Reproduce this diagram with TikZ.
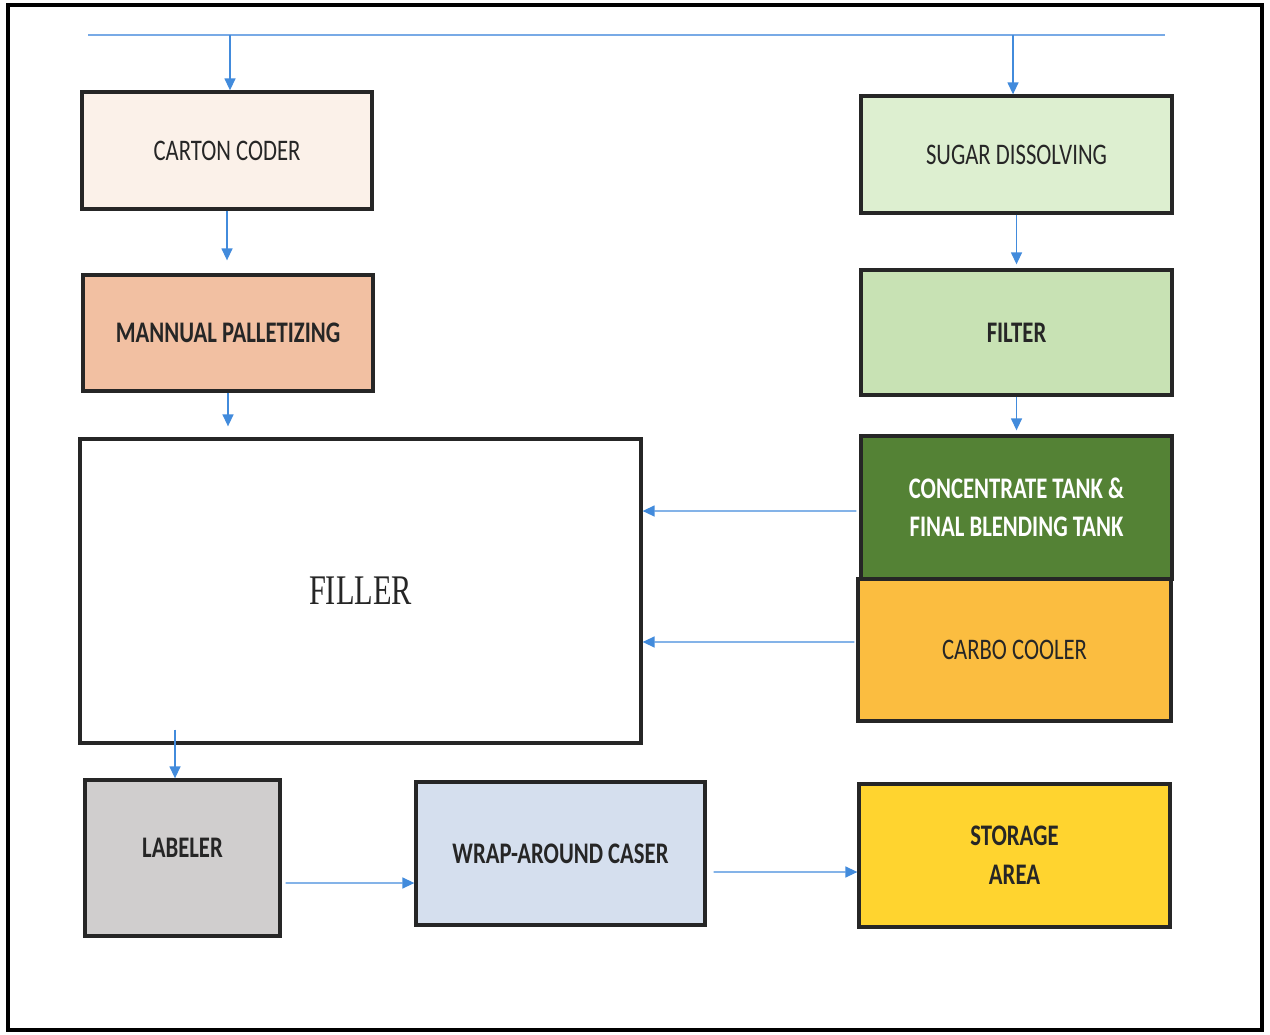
\documentclass[tikz,border=0pt]{standalone}
\usepackage{fontspec}
\newfontfamily\boxfont[FakeStretch=0.76]{Carlito}
\newfontfamily\fillerfont[FakeStretch=0.72]{Liberation Serif}
\usetikzlibrary{arrows.meta}
\definecolor{flowblue}{RGB}{66,139,220}
\definecolor{lineblue}{RGB}{120,170,230}
\definecolor{cartonfill}{RGB}{251,241,233}
\definecolor{manualfill}{RGB}{242,192,162}
\definecolor{sugarfill}{RGB}{221,239,208}
\definecolor{filterfill}{RGB}{200,226,180}
\definecolor{concfill}{RGB}{84,130,53}
\definecolor{carbofill}{RGB}{251,189,64}
\definecolor{labelfill}{RGB}{208,206,206}
\definecolor{wrapfill}{RGB}{213,223,238}
\definecolor{storefill}{RGB}{255,212,47}
\tikzset{
 box/.style={draw=black!85,line width=1.9pt,inner sep=2pt,align=center,text=black!85,
  font={\boxfont\fontsize{17}{21}\selectfont}},
 flow/.style={draw=flowblue,line width=0.8pt,-{Triangle[length=0.24cm,width=0.22cm]}}
}
\begin{document}
\begin{tikzpicture}[x=0.02cm,y=-0.02cm]
 \useasboundingbox (0,0) rectangle (1270,1034);
 \draw[line width=1.8pt] (8,5) rectangle (1262,1030);
 \node[box,fill=cartonfill,minimum width=5.8cm,minimum height=2.34cm] (carton) at (227,150.5) {CARTON CODER};
 \node[box,fill=manualfill,minimum width=5.8cm,minimum height=2.32cm,font={\boxfont\bfseries\fontsize{17}{21}\selectfont}] (manual) at (228,333) {MANNUAL PALLETIZING};
 \node[box,fill=white,minimum width=11.22cm,minimum height=6.08cm,font={\fillerfont\fontsize{24}{28}\selectfont}] (filler) at (360.5,591) {FILLER};
 \node[box,fill=sugarfill,minimum width=6.22cm,minimum height=2.34cm] (sugar) at (1016.5,154.5) {SUGAR DISSOLVING};
 \node[box,fill=filterfill,minimum width=6.22cm,minimum height=2.5cm,font={\boxfont\bfseries\fontsize{17}{21}\selectfont}] (filter) at (1016.5,332.5) {FILTER};
 \node[box,fill=concfill,text=white,minimum width=6.22cm,minimum height=2.86cm,font={\boxfont\bfseries\fontsize{17}{21.5}\selectfont}] (conc) at (1016.5,507.5) {CONCENTRATE TANK \&\\FINAL BLENDING TANK};
 \node[box,fill=carbofill,minimum width=6.26cm,minimum height=2.84cm] (carbo) at (1014.5,650) {CARBO COOLER};
 \node[box,fill=labelfill,minimum width=3.9cm,minimum height=3.12cm,text depth=0.4cm,font={\boxfont\bfseries\fontsize{17}{21}\selectfont}] (labeler) at (182.5,858) {LABELER};
 \node[box,fill=wrapfill,minimum width=5.78cm,minimum height=2.86cm,font={\boxfont\bfseries\fontsize{17}{21}\selectfont}] (wrap) at (560.5,853.5) {WRAP-AROUND CASER};
 \node[box,fill=storefill,minimum width=6.22cm,minimum height=2.86cm,font={\boxfont\bfseries\fontsize{17}{22}\selectfont}] (storage) at (1014.5,855.5) {STORAGE\\AREA};
 \coordinate (tl) at (88,35);
 \coordinate (tr) at (1165,35);
 \coordinate (c1) at (230,35);
 \coordinate (c2) at (1013,35);
 \draw[lineblue,line width=1.1pt] (tl) -- (tr);
 \draw[flow] (c1) -- (c1 |- carton.north);
 \draw[flow] (c2) -- (c2 |- sugar.north);
 \draw[flow,shorten >=0.26cm] (carton.south) -- (carton.south |- manual.north);
 \draw[flow,shorten >=0.22cm] (manual.south) -- (manual.south |- filler.north);
 \draw[flow,shorten >=0.08cm] (sugar.south) -- (filter.north);
 \draw[flow,shorten >=0.08cm] (filter.south) -- (conc.north);
 \draw[flow] ([xshift=-0.06cm,yshift=-0.07cm]conc.west) -- ([yshift=1.6cm]filler.east);
 \draw[flow] ([xshift=-0.04cm,yshift=0.16cm]carbo.west) -- ([yshift=-1.02cm]filler.east);
 \draw[flow] ([xshift=-0.15cm]labeler.north |- filler.south) ++(0,-15) -- ([xshift=-0.15cm]labeler.north);
 \draw[flow] ([xshift=0.08cm,yshift=-0.5cm]labeler.east) -- ([yshift=-0.59cm]wrap.west);
 \draw[flow] ([xshift=0.14cm,yshift=-0.37cm]wrap.east) -- ([yshift=-0.33cm]storage.west);
\end{tikzpicture}
\end{document}
